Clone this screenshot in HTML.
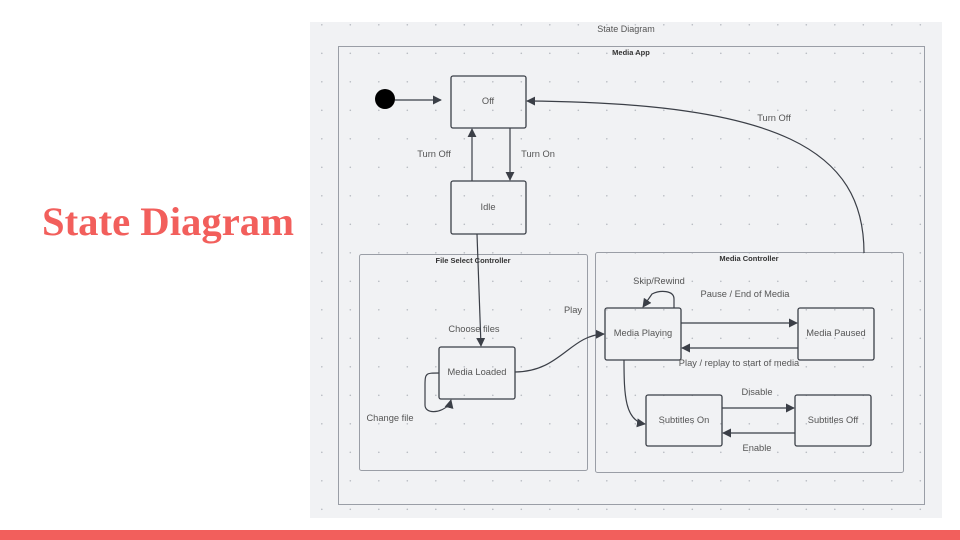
<!DOCTYPE html>
<html><head><meta charset="utf-8"><style>
html,body{margin:0;padding:0;width:960px;height:540px;overflow:hidden;background:#fff}
svg{position:absolute;left:0;top:0}
</style></head><body>
<svg width="960" height="540" viewBox="0 0 960 540" font-family="Liberation Sans, sans-serif">
<defs>
<pattern id="dots" x="321" y="24" width="28.5" height="28.5" patternUnits="userSpaceOnUse">
<circle cx="0.8" cy="0.8" r="0.8" fill="#b8bbc2"/>
</pattern>
<marker id="ar" viewBox="0 0 10 10" refX="9" refY="5" markerWidth="9" markerHeight="9" markerUnits="userSpaceOnUse" orient="auto">
<path d="M0,0 L10,5 L0,10 z" fill="#3b3f47"/>
</marker>
</defs>
<text x="168" y="235" font-family="Liberation Serif, serif" font-weight="bold" font-size="40" fill="#f25f5c" text-anchor="middle" textLength="252" lengthAdjust="spacingAndGlyphs">State Diagram</text>
<rect x="310" y="22" width="632" height="496" fill="#f1f2f4"/>
<rect x="310" y="22" width="632" height="496" fill="url(#dots)"/>
<rect x="0" y="530" width="960" height="10" fill="#f25f5c"/>
<text x="626" y="32" font-size="9" fill="#555" text-anchor="middle">State Diagram</text>
<rect x="338.5" y="46.5" width="586" height="458" fill="none" stroke="#9a9ea6" stroke-width="1"/>
<text x="631" y="55" font-size="7.5" font-weight="bold" fill="#333" text-anchor="middle">Media App</text>
<rect x="359.5" y="254.5" width="228" height="216" rx="2" fill="none" stroke="#9a9ea6"/>
<text x="473" y="263" font-size="7.5" font-weight="bold" fill="#333" text-anchor="middle">File Select Controller</text>
<rect x="595.5" y="252.5" width="308" height="220" rx="2" fill="none" stroke="#9a9ea6"/>
<text x="749" y="261" font-size="7.5" font-weight="bold" fill="#333" text-anchor="middle">Media Controller</text>
<g fill="none" stroke="#3b3f47" stroke-width="1.3">
<rect x="451" y="76" width="75" height="52" rx="2"/>
<rect x="451" y="181" width="75" height="53" rx="2"/>
<rect x="439" y="347" width="76" height="52" rx="2"/>
<rect x="605" y="308" width="76" height="52" rx="2"/>
<rect x="798" y="308" width="76" height="52" rx="2"/>
<rect x="646" y="395" width="76" height="51" rx="2"/>
<rect x="795" y="395" width="76" height="51" rx="2"/>
</g>
<circle cx="385" cy="99" r="10" fill="#000"/>
<g fill="none" stroke="#3b3f47" stroke-width="1.2" marker-end="url(#ar)">
<path d="M395,100 L441,100"/>
<path d="M472,181 L472,129"/>
<path d="M510,128 L510,180"/>
<path d="M864,253 C864,150 780,103 527,101"/>
<path d="M477,234 L481,346"/>
<path d="M515,372 C560,372 570,335 604,334"/>
<path d="M439,373 C426,373 425,373 425,385 L425,405 C425,414 440,414 450,404 L451,400"/>
<path d="M674,308 L674,299 C674,290 660,290 652,294 L643,307"/>
<path d="M681,323 L797,323"/>
<path d="M798,348 L682,348"/>
<path d="M624,360 C624,395 625,421 645,424"/>
<path d="M722,408 L794,408"/>
<path d="M795,433 L723,433"/>
</g>
<g font-size="9.3" fill="#555" text-anchor="middle">
<text x="488" y="104">Off</text>
<text x="488" y="210">Idle</text>
<text x="477" y="375">Media Loaded</text>
<text x="643" y="336">Media Playing</text>
<text x="836" y="336">Media Paused</text>
<text x="684" y="423">Subtitles On</text>
<text x="833" y="423">Subtitles Off</text>
<text x="434" y="157">Turn Off</text>
<text x="538" y="157">Turn On</text>
<text x="774" y="121">Turn Off</text>
<text x="474" y="332">Choose files</text>
<text x="573" y="313">Play</text>
<text x="390" y="421">Change file</text>
<text x="659" y="284">Skip/Rewind</text>
<text x="745" y="297">Pause / End of Media</text>
<text x="739" y="366">Play / replay to start of media</text>
<text x="757" y="395">Disable</text>
<text x="757" y="451">Enable</text>
</g>
</svg>
</body></html>
